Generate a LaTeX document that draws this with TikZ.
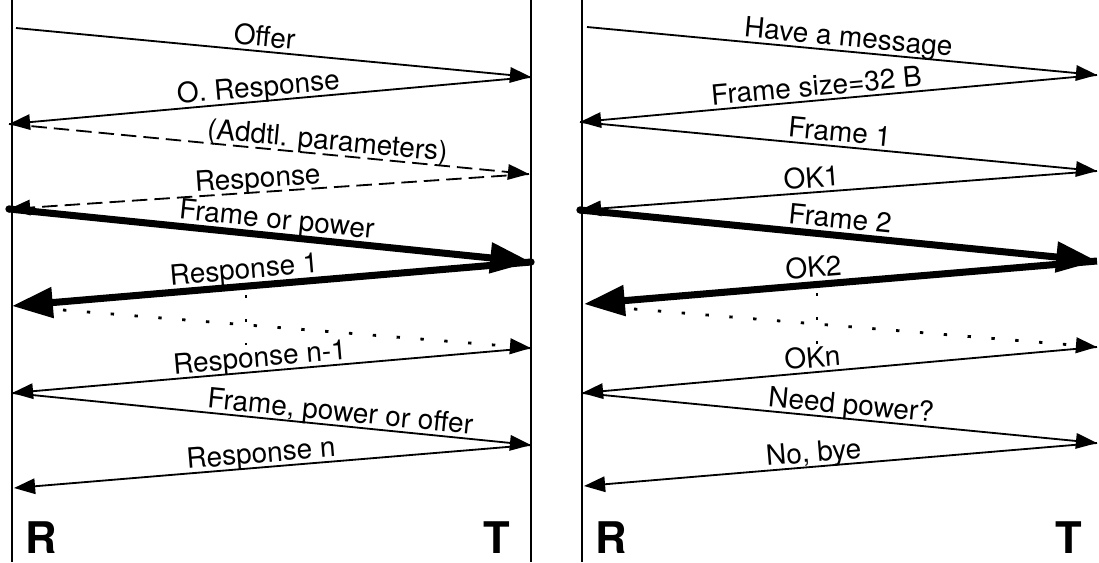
\documentclass[tikz,border=0pt]{standalone}
\usepackage{fontspec}
\setmainfont{TeX Gyre Heros}
\usetikzlibrary{arrows.meta}

\tikzset{
  lifeline/.style={line width=1.4pt},
  msg/.style={line width=1.3pt, -{Triangle[length=15pt, width=11pt]}},
  bigmsg/.style={line width=5pt, -{Triangle[length=29pt, width=21pt]}},
  dashline/.style={dash pattern=on 11pt off 5pt},
  dotline/.style={line width=2pt, dash pattern=on 2.4pt off 14.6pt},
  lbl/.style={sloped, above, inner sep=0.6pt, text height=0.7em, text depth=0.22em,
    font=\fontsize{19.9}{22}\selectfont},
  side/.style={anchor=base, inner sep=0pt, font=\fontsize{31}{34}\selectfont\bfseries},
}

\begin{document}
\begin{tikzpicture}[x=0.025cm, y=-0.025cm]
    \useasboundingbox (0,0) rectangle (1099,562);

    % left panel: lifelines
    \coordinate (Rtop) at (12,0);  \coordinate (Rbot) at (12,562);
    \coordinate (Ttop) at (531,0); \coordinate (Tbot) at (531,562);
    \draw[lifeline] (Rtop) -- (Rbot);
    \draw[lifeline] (Ttop) -- (Tbot);

    % left panel: message ends
    \coordinate (a0) at (16,28);  \coordinate (b1) at (531,77);
    \coordinate (a1) at (9,124);  \coordinate (b2) at (529,174);
    \coordinate (a2) at (9,209);  \coordinate (b3) at (531,262);
    \coordinate (a3) at (12,306); \coordinate (d0) at (63,310);
    \coordinate (b4) at (531,348); \coordinate (a4) at (12,393);
    \coordinate (b5) at (531,445); \coordinate (a5) at (14,488);
    \coordinate (v0) at (246,295); \coordinate (v1) at (246,345);

    \draw[msg] (a0) -- node[lbl, pos=0.48] (offer) {Offer} (b1);
    \draw[msg] (b1) -- node[lbl, pos=0.52] (oresp) {O. Response} (a1);
    \draw[msg, dashline] (a1) -- node[lbl, pos=0.61] (addtl) {(Addtl. parameters)} (b2);
    \draw[msg, dashline] (b2) -- node[lbl, pos=0.52] (resp) {Response} (a2);
    \draw[bigmsg] (a2) -- node[lbl, pos=0.51] (frpow) {Frame or power} (b3);
    \draw[bigmsg] (b3) -- node[lbl, pos=0.55] (resp1) {Response 1} (a3);
    \draw[msg, dotline] (d0) -- (b4);
    \draw[dotline] (v0) -- (v1);
    \draw[msg] (b4) -- node[lbl, pos=0.52] (respm) {Response n-1} (a4);
    \draw[msg] (a4) -- node[lbl, pos=0.63] (frpowoff) {Frame, power or offer} (b5);
    \draw[msg] (b5) -- node[lbl, pos=0.52] (respn) {Response n} (a5);
    \fill (a2) circle (2.6pt);
    \fill (b3) circle (2.6pt);

    \node[side] (rl) at (41,553) {R};
    \node[side] (tl) at (497,553) {T};

    % right panel
    \coordinate (Rtop2) at (582,0); \coordinate (Rbot2) at (582,562);
    \draw[lifeline] (Rtop2) -- (Rbot2);

    \coordinate (c0) at (587,27);  \coordinate (e1) at (1097,75);
    \coordinate (c1) at (580,122); \coordinate (e2) at (1097,171);
    \coordinate (c2) at (580,210); \coordinate (e3) at (1097,261);
    \coordinate (c3) at (584,304); \coordinate (f0) at (634,309);
    \coordinate (e4) at (1097,347); \coordinate (c4) at (582,393);
    \coordinate (e5) at (1097,443); \coordinate (c5) at (584,486);
    \coordinate (w0) at (817,293); \coordinate (w1) at (817,353);

    \draw[msg] (c0) -- node[lbl, pos=0.51] (havemsg) {Have a message} (e1);
    \draw[msg] (e1) -- node[lbl, pos=0.54] (fsize) {Frame size=32 B} (c1);
    \draw[msg] (c1) -- node[lbl, pos=0.50] (frame1) {Frame 1} (e2);
    \draw[msg] (e2) -- node[lbl, pos=0.55] (ok1) {OK1} (c2);
    \draw[bigmsg] (c2) -- node[lbl, pos=0.50] (frame2) {Frame 2} (e3);
    \draw[bigmsg] (e3) -- node[lbl, pos=0.55] (ok2) {OK2} (c3);
    \draw[msg, dotline] (f0) -- (e4);
    \draw[dotline] (w0) -- (w1);
    \draw[msg] (e4) -- node[lbl, pos=0.55] (okn) {OKn} (c4);
    \draw[msg] (c4) -- node[lbl, pos=0.52] (needpow) {Need power?} (e5);
    \draw[msg] (e5) -- node[lbl, pos=0.55] (nobye) {No, bye} (c5);
    \fill (c2) circle (2.6pt);

    \node[side] (rr) at (611,553) {R};
    \node[side] (tr) at (1069,553) {T};
\end{tikzpicture}
\end{document}
